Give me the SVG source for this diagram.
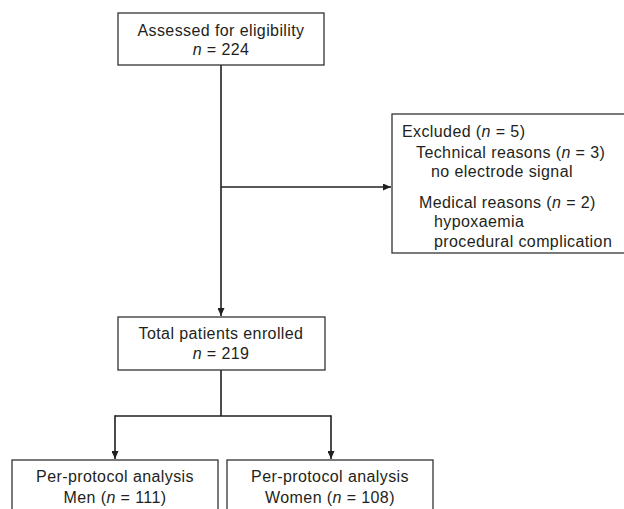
<svg xmlns="http://www.w3.org/2000/svg" width="624" height="509" viewBox="0 0 624 509">
<style>
.box{fill:#fff;stroke:#333;stroke-width:1.3}
.t{font-family:"Liberation Sans",Arial,sans-serif;font-size:16px;fill:#231f20;letter-spacing:0.4px}
.c{text-anchor:middle}
.ln{fill:none;stroke:#231f20;stroke-width:1.6}
</style>
<defs>
<marker id="ah" viewBox="0 0 10 10" refX="10" refY="5" markerWidth="8" markerHeight="7" orient="auto" markerUnits="userSpaceOnUse" preserveAspectRatio="none">
<path d="M0,0 L10,5 L0,10 z" fill="#231f20"/>
</marker>
</defs>
<rect width="624" height="509" fill="#fff"/>
<g id="connectors">
<path class="ln" d="M221,65 V316" marker-end="url(#ah)"/>
<path class="ln" d="M221,187 H391" marker-end="url(#ah)"/>
<path class="ln" d="M221,370 V416 M115,416 H331"/>
<path class="ln" d="M115,415.2 V459" marker-end="url(#ah)"/>
<path class="ln" d="M331,415.2 V459" marker-end="url(#ah)"/>
</g>
<g id="assessed">
<rect class="box" x="118" y="13" width="206" height="52"/>
<text class="t c" x="221" y="36">Assessed for eligibility</text>
<text class="t c" x="221" y="55"><tspan font-style="italic">n</tspan> = 224</text>
</g>
<g id="excluded">
<rect class="box" x="392" y="114" width="240" height="139"/>
<text class="t" x="402" y="137">Excluded (<tspan font-style="italic">n</tspan> = 5)</text>
<text class="t" x="416" y="158">Technical reasons (<tspan font-style="italic">n</tspan> = 3)</text>
<text class="t" x="431" y="177">no electrode signal</text>
<text class="t" x="419" y="208">Medical reasons (<tspan font-style="italic">n</tspan> = 2)</text>
<text class="t" x="434" y="227">hypoxaemia</text>
<text class="t" x="434" y="247">procedural complication</text>
</g>
<g id="enrolled">
<rect class="box" x="118" y="317" width="207" height="53"/>
<text class="t c" x="221" y="339">Total patients enrolled</text>
<text class="t c" x="221" y="359"><tspan font-style="italic">n</tspan> = 219</text>
</g>
<g id="men">
<rect class="box" x="12" y="460" width="206" height="60"/>
<text class="t c" x="115" y="482">Per-protocol analysis</text>
<text class="t c" x="115" y="503">Men (<tspan font-style="italic">n</tspan> = 111)</text>
</g>
<g id="women">
<rect class="box" x="227" y="460" width="206" height="60"/>
<text class="t c" x="330" y="482">Per-protocol analysis</text>
<text class="t c" x="330" y="503">Women (<tspan font-style="italic">n</tspan> = 108)</text>
</g>
</svg>
